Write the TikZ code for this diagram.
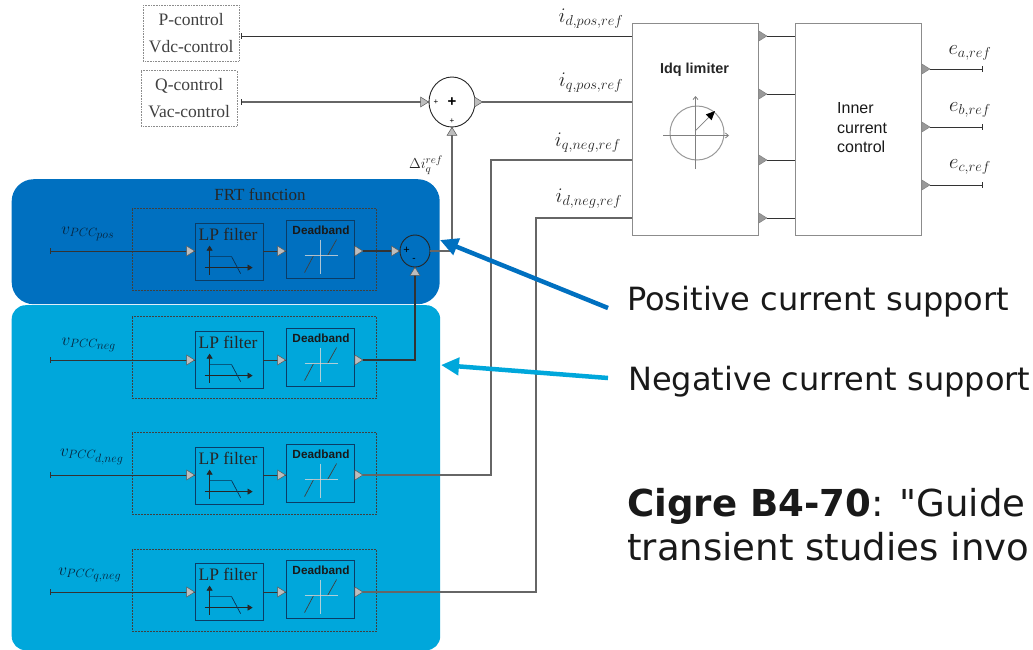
\documentclass[tikz,border=0pt]{standalone}
\usepackage{fontspec}
\setmainfont{Liberation Serif}
\setsansfont{Liberation Sans}
\newfontfamily\dejavu{DejaVu Sans}
\usetikzlibrary{arrows.meta,calc}
\definecolor{darkb}{HTML}{0070C0}
\definecolor{lightb}{HTML}{00A7DB}
\definecolor{ink}{HTML}{333333}
\definecolor{tribg}{HTML}{BDBDBD}
\definecolor{boxline}{HTML}{0B3C66}
\tikzset{
  x=1pt,y=-1pt,
  wire/.style={draw=ink,line width=1pt},
  graywire/.style={draw=black!60,line width=1.1pt},
  panel/.style={rounded corners=#1,draw=none,inner sep=0pt},
  fnbox/.style={draw=black!75,densely dotted,line width=0.5pt},
  ctrl/.style={draw=black!45,densely dotted,line width=0.6pt,minimum width=95.5pt,minimum height=55.5pt,inner sep=0pt,align=center,font=\fontsize{17.5}{27}\selectfont,text=black!75},
  lpbox/.style={draw=boxline,line width=0.8pt,minimum width=68pt,minimum height=57pt,inner sep=0pt},
  dbbox/.style={draw=boxline,line width=0.8pt,minimum width=68.5pt,minimum height=58pt,inner sep=0pt},
  bigbox/.style={draw=black!45,fill=white,line width=0.8pt,minimum width=126.5pt,minimum height=211.5pt,inner sep=0pt},
  lab/.style={inner sep=0pt,text=black!85,font=\fontsize{20.5}{20}\selectfont},
  vlab/.style={inner sep=0pt,text=boxline!60!black,font=\fontsize{17}{17}\selectfont},
  lptext/.style={inner sep=0pt,text=black!85,font=\fontsize{17.5}{18}\selectfont},
  dbtext/.style={inner sep=0pt,text=black!90,font=\sffamily\bfseries\fontsize{11.8}{12}\selectfont},
  note/.style={inner sep=0pt,anchor=base west,text=black!90,font=\dejavu\fontsize{32}{32}\selectfont},
  bignote/.style={inner sep=0pt,anchor=base west,text=black!90,font=\dejavu\fontsize{37.1}{37}\selectfont},
  supp/.style={-{Triangle[length=18pt,width=17pt]},line width=4.5pt},
  sumnode/.style={draw=black!85,line width=0.9pt,ellipse,inner sep=0pt},
  tri/.pic={\filldraw[fill=tribg,draw=black!65,line width=0.5pt] (0,0)--(-8,-5)--(-8,5)--cycle;},
  triup/.pic={\filldraw[fill=tribg,draw=black!65,line width=0.5pt] (0,0)--(-5,8)--(5,8)--cycle;},
  trid/.pic={\filldraw[fill=black!40,draw=black!50,line width=0.5pt] (0,0)--(-8,-5)--(-8,5)--cycle;},
  tick/.pic={\draw[ink,line width=0.7pt] (0,-3)--(0,3);}
}
\usetikzlibrary{shapes.geometric}
\begin{document}
\begin{tikzpicture}
\useasboundingbox (0,0) rectangle (1033,649);
\clip (0,0) rectangle (1033,649);
\node[panel=14pt,fill=lightb,minimum width=428.5pt,minimum height=345pt,anchor=north west] (pl) at (11.5,305) {};
\node[panel=22pt,fill=darkb,minimum width=428pt,minimum height=125pt,anchor=north west] (pd) at (11.5,179) {};

\node[ctrl] (pc) at (191.2,33.2) {\raisebox{1pt}{P-control}\\[-0.5pt]\raisebox{1pt}{Vdc-control}};
\node[ctrl] (qc) at (189.2,98.5) {\raisebox{-2pt}{Q-control}\\[0pt]\raisebox{-2pt}{Vac-control}};

\node[bigbox] (lim) at (695.2,129.2) {};
\node[bigbox] (icc) at (858.2,129.2) {};
\node[inner sep=0pt,font=\sffamily\bfseries\fontsize{14.4}{14}\selectfont,text=black!85] (limt) at (694.5,70) {Idq limiter};
\node[inner sep=0pt,anchor=west,align=left,font=\sffamily\fontsize{16}{19.5}\selectfont,text=black!90] (icct) at (837,128) {Inner\\current\\control};

% limiter icon
\draw[black!40,line width=1pt] (697,133) circle[radius=27];
\draw[black!50,line width=0.8pt,-{Straight Barb[length=3pt,width=5pt]}] (663,135.5)--(729,135.5);
\draw[black!50,line width=0.8pt,-{Straight Barb[length=3pt,width=5pt]}] (695.5,169)--(695.5,96);
\draw[black!50,line width=0.7pt,-{Triangle[length=9pt,width=8pt,black]}] (695,131)--(715,111);

% sums
\node[sumnode,minimum width=46pt,minimum height=50pt] (s1) at (452,102) {};
\node[sumnode,minimum width=30pt,minimum height=32pt] (s2) at (415,251) {};
\node[inner sep=0pt,font=\sffamily\bfseries\fontsize{15}{15}\selectfont] (s1p) at (452,102) {+};
\node[inner sep=0pt,font=\sffamily\fontsize{8}{8}\selectfont] (s1a) at (436,102) {+};
\node[inner sep=0pt,font=\sffamily\fontsize{8}{8}\selectfont] (s1b) at (452,121) {+};
\node[inner sep=0pt,font=\sffamily\fontsize{11}{11}\selectfont] (s2a) at (406.5,250.5) {+};
\node[inner sep=0pt,font=\sffamily\fontsize{10}{10}\selectfont] (s2b) at (414,260) {-};

% filter rows: index / wire y / LP centre y / DB centre y / dashed top / label
\foreach \n/\wy/\ly/\dy/\ft/\lx/\lby/\lbl in {
  1/251/251.5/249/208/88/234/{v_{PCC_{\scriptstyle pos}}},
  2/360/359.5/357/316/89/345/{v_{PCC_{\scriptstyle neg}}},
  3/475/475.5/473/432/92/457/{v_{PCC_{\scriptstyle d,neg}}},
  4/592/591.5/589/549/90/575/{v_{PCC_{\scriptstyle q,neg}}}}{
  \node[fnbox,minimum width=244.5pt,minimum height=82pt,inner sep=0pt,anchor=north west] (fb\n) at (131.5,\ft) {};
  \node[lpbox] (lp\n) at (229,\ly) {};
  \node[dbbox] (db\n) at (320.2,\dy) {};
  \node[lptext] (lpt\n) at (228,\ly-17) {LP filter};
  \node[dbtext] (dbt\n) at (321,\dy-19) {Deadband};
  \node[vlab] (vl\n) at (\lx,\lby) {$\lbl$};
  \coordinate (in\n) at (50,\wy);
  \coordinate (lpi\n) at (lp\n.west |- in\n);
  \coordinate (lpo\n) at (lp\n.east |- in\n);
  \coordinate (dbi\n) at (db\n.west |- in\n);
  \coordinate (dbo\n) at (db\n.east |- in\n);
  \draw[wire] (in\n)--(lpi\n);
  \draw[wire] (lpo\n)--(dbi\n);
  \path (in\n) pic {tick};
  \path (lpi\n) pic {tri};
  \path (dbi\n) pic {tri};
  \path ($(dbo\n)+(8,0)$) pic {tri};
  % LP icon
  \begin{scope}[shift={(lp\n.north west)}]
    \draw[black!85,line width=0.7pt,-{Triangle[length=5pt,width=6pt]}] (15,52)--(15,23);
    \draw[black!85,line width=0.7pt,-{Triangle[length=5pt,width=6pt]}] (10,45)--(58,45);
    \draw[boxline!80!black,line width=0.7pt] (15,34)--(37,34)--(46,51);
  \end{scope}
  % deadband icon
  \begin{scope}[shift={(db\n.north west)}]
    \draw[black!75,line width=0.7pt] (19,53)--(28,36)--(42,36)--(51,20);
    \draw[white!70!gray,opacity=0.8,line width=1pt] (34.5,20)--(34.5,54);
    \draw[white!70!gray,opacity=0.8,line width=1pt] (19,36)--(52,36);
  \end{scope}
}

% top wires
\coordinate (limA) at (lim.west |- 0,36);
\coordinate (limB) at (lim.west |- 0,102);
\coordinate (limC) at (lim.west |- 0,160);
\coordinate (limD) at (lim.west |- 0,218);
\coordinate (pcO) at (241,36);
\coordinate (qcO) at (241,102);
\draw[wire] (pcO)--(limA);
\path (pcO) pic {tick};
\draw[graywire] (qcO)--(s1.west);
\path (qcO) pic {tick};
\path (s1.west) pic {tri};
\draw[graywire] ($(s1.east)+(7,0)$)--(limB);
\path ($(s1.east)+(7,0)$) pic {tri};
\coordinate (s1in) at (s1.south |- in1);
\draw[graywire] (s1in)--(s1.south);
\path (s1.south) pic {triup};
\draw[graywire] (s2.east)--(s1in);
\draw[wire,line width=1.2pt] ($(dbo1)+(8,0)$)--(s2.west);
\path (s2.west) pic {tri};
\draw[wire,line width=1.2pt] ($(dbo2)+(8,0)$)-|(s2.south);
\path (s2.south) pic {triup};
\draw[graywire] (limC)-|(491,475)--($(dbo3)+(8,0)$);
\draw[graywire] (limD)-|(536,592)--($(dbo4)+(8,0)$);

% limiter to inner control
\foreach \k/\yy in {a/36,b/94,c/160,d/218}{
  \coordinate (lo\k) at (lim.east |- 0,\yy);
  \coordinate (ii\k) at (icc.west |- 0,\yy);
  \draw[wire] ($(lo\k)+(8,0)$)--(ii\k);
  \path ($(lo\k)+(8,0)$) pic {trid};
}
\foreach \k/\yy in {a/69,b/127,c/185}{
  \coordinate (io\k) at (icc.east |- 0,\yy);
  \coordinate (ie\k) at (982,\yy);
  \draw[wire] ($(io\k)+(8,0)$)--(ie\k);
  \path ($(io\k)+(8,0)$) pic {trid};
  \path (ie\k) pic {tick};
}

% labels
\node[lab] (li1) at (591,19) {$i_{d,pos,ref}$};
\node[lab] (li2) at (591,83) {$i_{q,pos,ref}$};
\node[lab] (li3) at (588,143) {$i_{q,neg,ref}$};
\node[lab] (li4) at (589,199) {$i_{d,neg,ref}$};
\node[lab] (le1) at (970,53) {$e_{a,ref}$};
\node[lab] (le2) at (970,110) {$e_{b,ref}$};
\node[lab] (le3) at (970,167) {$e_{c,ref}$};
\node[lab,font=\fontsize{15}{15}\selectfont] (dq) at (426,165) {$\Delta i_q^{ref}$};
\node[inner sep=0pt,font=\fontsize{17}{17}\selectfont,text=black!85] (frt) at (260,195) {FRT function};

% notes
\node[note] (pos) at (627,310) {Positive current support};
\node[note] (neg) at (628,390) {Negative current support};
\node[bignote] (cig1) at (627,516) {\textbf{Cigre B4-70}: "Guide};
\node[bignote] (cig2) at (627,560) {transient studies invo};
\coordinate (posS) at (608,308);
\coordinate (negS) at (608,378);
\coordinate (posE) at (440,240);
\coordinate (negE) at (441,365);
\draw[supp,darkb] (posS)--(posE);
\draw[supp,lightb] (negS)--(negE);
\end{tikzpicture}
\end{document}
